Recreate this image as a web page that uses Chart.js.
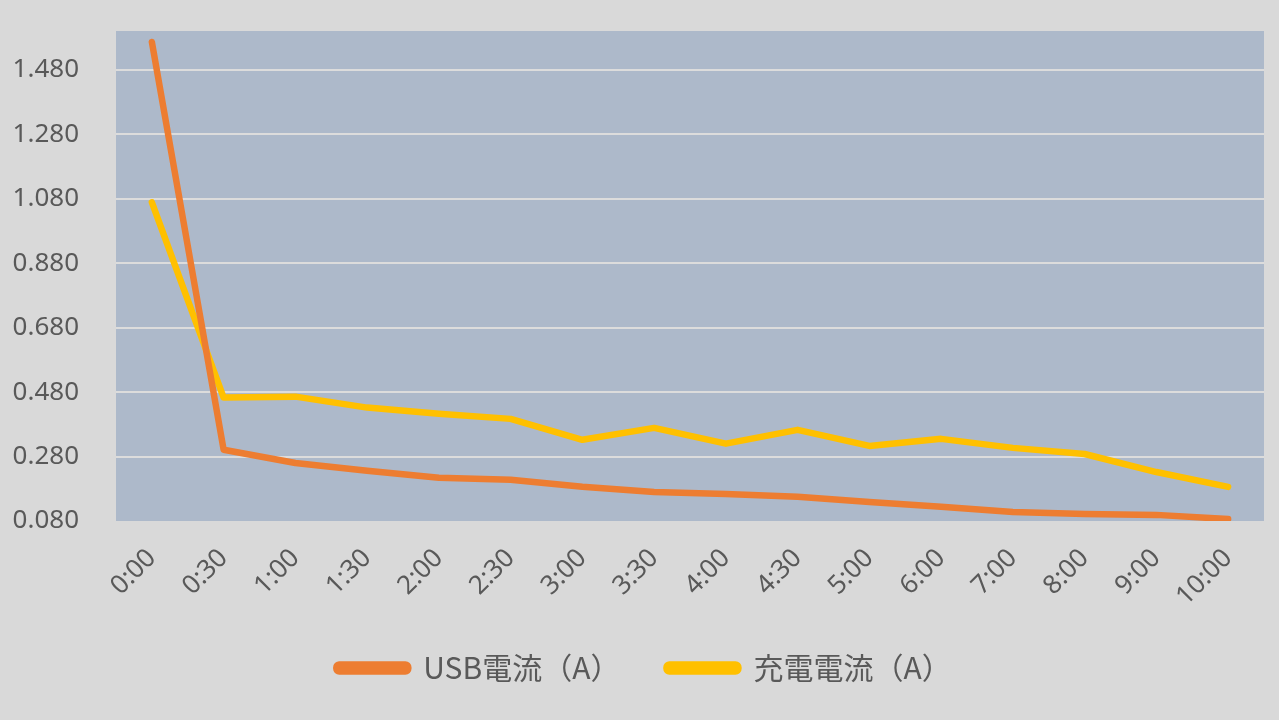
<!DOCTYPE html>
<html>
<head>
<meta charset="utf-8">
<script src="https://cdn.jsdelivr.net/npm/chart.js@4.4.1/dist/chart.umd.min.js"></script>
<style>
  html, body { margin: 0; padding: 0; background: #d9d9d9; }
  #wrap { width: 1279px; height: 720px; }
</style>
</head>
<body>
<div id="wrap"><canvas id="c" width="1279" height="720"></canvas></div>
<script>
const labels = ["0:00", "0:30", "1:00", "1:30", "2:00", "2:30", "3:00", "3:30", "4:00", "4:30", "5:00", "6:00", "7:00", "8:00", "9:00", "10:00"];
const usbCurrent = [1.567, 0.301, 0.260, 0.236, 0.214, 0.208, 0.186, 0.170, 0.164, 0.155, 0.139, 0.124, 0.108, 0.102, 0.099, 0.086];
const chargeCurrent = [1.069, 0.463, 0.466, 0.432, 0.413, 0.397, 0.332, 0.369, 0.320, 0.363, 0.313, 0.335, 0.307, 0.288, 0.232, 0.186];
const yTicks = [0.08, 0.28, 0.48, 0.68, 0.88, 1.08, 1.28, 1.48];

const plotBg = {
  id: "plotBg",
  beforeDraw(chart) {
    const { ctx, chartArea: a } = chart;
    ctx.save();
    ctx.fillStyle = "#adb9ca";
    ctx.fillRect(a.left, a.top, a.right - a.left, a.bottom - a.top);
    ctx.restore();
  },
};

// nudge legend a bit to the right, like the original
const legendShift = {
  id: "legendShift",
  afterLayout(chart) {
    if (chart.legend) {
      chart.legend.left += 12;
      chart.legend.right += 12;
    }
  },
};

const fontFamily = '"Noto Sans", "Noto Sans CJK JP", sans-serif';

new Chart(document.getElementById("c"), {
  type: "line",
  data: {
    labels: labels,
    datasets: [
      {
        label: "USB電流（A）",
        data: usbCurrent,
        borderColor: "#ed7d31",
        backgroundColor: "#ed7d31",
        borderWidth: 6.5,
        borderCapStyle: "round",
        borderJoinStyle: "round",
        pointRadius: 0,
        tension: 0,
      },
      {
        label: "充電電流（A）",
        data: chargeCurrent,
        borderColor: "#ffc000",
        backgroundColor: "#ffc000",
        borderWidth: 6.5,
        borderCapStyle: "round",
        borderJoinStyle: "round",
        pointRadius: 0,
        tension: 0,
      },
    ],
  },
  options: {
    responsive: false,
    animation: false,
    layout: { padding: { top: 31, right: 15, left: 0, bottom: 27 } },
    scales: {
      x: {
        offset: true,
        grid: { display: false },
        border: { display: false },
        ticks: {
          color: "#595959",
          font: { family: fontFamily, size: 26 },
          minRotation: 45,
          maxRotation: 45,
          padding: 14,
        },
        afterFit(scale) {
          scale.height = 86;
          scale.paddingTop = 0;
          scale.paddingBottom = 0;
        },
      },
      y: {
        min: 0.08,
        max: 1.601,
        afterBuildTicks(scale) {
          scale.ticks = yTicks.map((v) => ({ value: v }));
        },
        afterFit(scale) {
          scale.width = 116;
          scale.paddingTop = 0;
          scale.paddingBottom = 0;
        },
        grid: {
          color: (c) => (c.index === 0 ? "rgba(0,0,0,0)" : "#dcdcdc"),
          lineWidth: 2,
          drawTicks: false,
        },
        border: { display: false },
        ticks: {
          color: "#595959",
          font: { family: fontFamily, size: 26 },
          padding: 37,
          callback: (v) => Number(v).toFixed(3),
        },
      },
    },
    plugins: {
      legend: {
        position: "bottom",
        labels: {
          color: "#595959",
          font: { family: '"Noto Sans CJK JP", sans-serif', size: 30 },
          boxWidth: 72,
          boxHeight: 7,
          useBorderRadius: true,
          borderRadius: 3,
          padding: 46,
        },
      },
      tooltip: { enabled: false },
    },
  },
  plugins: [plotBg, legendShift],
});
</script>
</body>
</html>
